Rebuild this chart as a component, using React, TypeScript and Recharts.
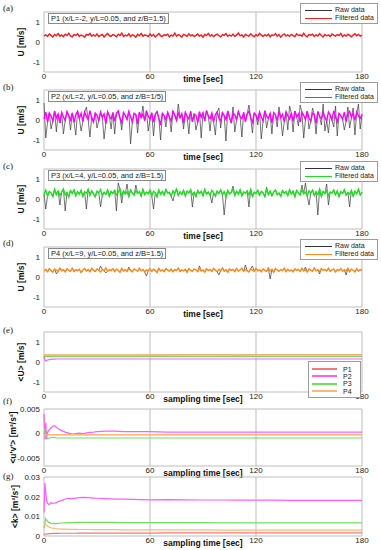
import React from 'react';
import { LineChart, Line, XAxis, YAxis, CartesianGrid, Label } from 'recharts';

const FONT = '"Liberation Sans", Arial, Helvetica, sans-serif';

// ---------- panel (a) P1 ----------
const p1Filtered = [
0.30,0.36,0.28,0.40,0.33,0.25,0.38,0.31,0.42,0.29,0.35,0.27,0.39,0.32,0.44,0.30,0.26,0.37,0.33,0.41,
0.28,0.35,0.31,0.24,0.38,0.34,0.43,0.29,0.36,0.30,0.40,0.27,0.33,0.38,0.25,0.35,0.42,0.31,0.29,0.37,
0.33,0.26,0.39,0.32,0.45,0.28,0.34,0.30,0.41,0.27,0.36,0.32,0.24,0.38,0.31,0.43,0.29,0.35,0.33,0.27,
0.40,0.30,0.37,0.25,0.34,0.42,0.31,0.28,0.36,0.33,0.39,0.26,0.35,0.30,0.44,0.29,0.37,0.32,0.25,0.38,
0.34,0.28,0.41,0.31,0.36,0.27,0.33,0.40,0.29,0.35,0.24,0.38,0.32,0.43,0.30,0.36,0.27,0.34,0.39,0.31,
0.26,0.37,0.33,0.42,0.29,0.35,0.30,0.40,0.28,0.34,0.45,0.31,0.36,0.25,0.38,0.33,0.29,0.41,0.32,0.27,
0.37,0.30,0.43,0.34,0.28,0.36,0.31,0.39,0.26,0.35,0.33,0.42,0.29,0.37,0.24,0.34,0.40,0.30,0.36,0.28,
0.38,0.32,0.27,0.41,0.33,0.35,0.29,0.44,0.31,0.26,0.37,0.34,0.39,0.28,0.36,0.30,0.42,0.33,0.25,0.38,
0.31,0.35,0.28,0.40,0.34,0.29,0.37,0.32,0.43,0.27,0.36,0.30,0.39,0.33,0.26,0.35,0.41,0.31,0.38,0.29,0.34];
// raw signal at P1 is hidden under the filtered one
const p1Raw = [
0.30,0.36,0.28,0.40,0.33,0.25,0.38,0.31,0.42,0.29,0.35,0.27,0.39,0.32,0.44,0.30,0.26,0.37,0.33,0.41,
0.28,0.35,0.31,0.24,0.38,0.34,0.43,0.29,0.36,0.30,0.40,0.27,0.33,0.38,0.25,0.35,0.42,0.31,0.29,0.37,
0.33,0.26,0.39,0.32,0.45,0.28,0.34,0.30,0.41,0.27,0.36,0.32,0.24,0.38,0.31,0.43,0.29,0.35,0.33,0.27,
0.40,0.30,0.37,0.25,0.34,0.42,0.31,0.28,0.36,0.33,0.39,0.26,0.35,0.30,0.44,0.29,0.37,0.32,0.25,0.38,
0.34,0.28,0.41,0.31,0.36,0.27,0.33,0.40,0.29,0.35,0.24,0.38,0.32,0.43,0.30,0.36,0.27,0.34,0.39,0.31,
0.26,0.37,0.33,0.42,0.29,0.35,0.30,0.40,0.28,0.34,0.45,0.31,0.36,0.25,0.38,0.33,0.29,0.41,0.32,0.27,
0.37,0.30,0.43,0.34,0.28,0.36,0.31,0.39,0.26,0.35,0.33,0.42,0.29,0.37,0.24,0.34,0.40,0.30,0.36,0.28,
0.38,0.32,0.27,0.41,0.33,0.35,0.29,0.44,0.31,0.26,0.37,0.34,0.39,0.28,0.36,0.30,0.42,0.33,0.25,0.38,
0.31,0.35,0.28,0.40,0.34,0.29,0.37,0.32,0.43,0.27,0.36,0.30,0.39,0.33,0.26,0.35,0.41,0.31,0.38,0.29,0.34];

// ---------- panel (b) P2 ----------
const p2Filtered = [
0.05,0.40,-0.10,0.35,0.20,-0.05,0.45,0.10,0.30,-0.15,0.38,0.15,-0.02,0.42,0.22,0.00,0.36,-0.12,0.28,0.44,
0.08,0.33,-0.08,0.40,0.18,0.02,0.47,0.12,-0.10,0.35,0.25,-0.04,0.39,0.14,0.30,-0.18,0.41,0.20,0.06,0.37,
-0.06,0.32,0.45,0.10,-0.14,0.38,0.24,0.03,0.43,0.16,-0.09,0.34,0.27,-0.20,0.40,0.12,0.30,-0.03,0.46,0.19,
0.04,0.36,-0.11,0.29,0.42,0.08,-0.25,0.33,0.21,0.01,0.38,0.15,-0.07,0.44,0.26,-0.02,0.35,0.11,0.31,-0.16,
0.39,0.18,0.05,0.43,-0.09,0.30,0.23,-0.13,0.41,0.14,0.36,-0.04,0.47,0.20,0.07,0.34,-0.10,0.27,0.40,0.09,
-0.06,0.37,0.22,0.02,0.45,0.13,-0.15,0.32,0.28,-0.01,0.42,0.17,0.06,0.38,-0.08,0.30,0.44,0.11,-0.12,0.35,
0.24,0.00,0.40,0.15,-0.05,0.46,0.19,0.08,0.33,-0.14,0.37,0.26,-0.03,0.43,0.12,0.29,-0.09,0.41,0.21,0.04,
0.36,-0.07,0.45,0.16,0.31,-0.11,0.39,0.23,0.03,0.44,0.10,-0.06,0.34,0.27,-0.17,0.42,0.18,0.07,0.38,0.13,
-0.04,0.40,0.25,0.01,0.46,0.15,-0.10,0.33,0.22,0.05,0.39,-0.08,0.30,0.43,0.12,0.35,-0.02,0.41,0.20,0.09,0.28];
const p2Raw = [
0.85,-0.90,-0.10,0.35,-0.45,-0.05,0.45,-0.60,0.30,-0.15,0.38,-0.70,-0.02,0.42,0.22,-0.50,0.36,-0.12,-0.75,0.44,
0.08,-0.55,-0.08,0.40,0.65,0.02,-0.85,0.12,-0.10,0.35,-0.40,-0.04,0.39,0.14,-0.95,-0.18,0.41,0.20,-0.45,0.37,
-0.70,0.32,0.45,0.10,-0.50,0.38,0.24,0.03,0.43,-1.20,-0.09,0.34,0.27,-0.65,0.40,0.12,0.70,-0.03,0.46,-0.55,
0.04,0.36,-0.80,0.29,0.42,0.08,-1.00,0.33,0.21,-0.35,0.38,0.15,-0.60,0.44,0.26,-0.02,0.80,0.11,0.31,-0.45,
0.39,0.18,-0.70,0.43,-0.09,0.30,-0.50,-0.13,0.41,-0.90,0.36,-0.04,0.47,0.20,-0.55,0.34,-0.10,-0.75,0.40,0.60,
-0.40,0.37,0.22,-1.05,0.45,0.13,-0.15,0.65,-0.60,-0.01,0.42,0.17,-0.85,0.38,-0.08,0.30,0.75,0.11,-0.65,0.35,
0.24,-0.25,0.40,-0.95,-0.05,0.46,-0.40,0.08,0.33,-0.70,0.37,0.26,-0.35,0.65,0.12,-0.80,-0.09,0.41,-0.50,0.70,
0.36,-0.60,0.45,0.16,-0.30,0.75,0.39,-0.90,0.03,0.44,-0.45,-0.06,0.60,0.27,-0.70,0.42,0.18,-0.25,0.80,-0.55,
-0.04,-0.65,0.25,0.01,-0.35,0.70,-0.80,0.33,0.22,0.05,-0.50,-0.08,0.65,-0.40,0.12,0.60,-0.75,0.35,0.80,-0.45,0.28];

// ---------- panel (c) P3 ----------
const p3Filtered = [
0.25,0.45,0.15,0.38,0.30,0.12,0.48,0.22,0.40,0.18,0.35,0.50,0.20,0.33,0.10,0.42,0.28,0.46,0.16,0.37,
0.24,0.44,0.13,0.36,0.29,0.49,0.19,0.41,0.26,0.11,0.39,0.31,0.47,0.17,0.34,0.23,0.45,0.14,0.38,0.27,
0.43,0.21,0.32,0.50,0.15,0.40,0.25,0.36,0.12,0.46,0.30,0.19,0.42,0.28,0.37,0.14,0.48,0.22,0.35,0.26,
0.44,0.16,0.39,0.31,0.11,0.45,0.24,0.38,0.20,0.47,0.29,0.33,0.13,0.41,0.27,0.49,0.18,0.36,0.23,0.43,
0.15,0.40,0.30,0.46,0.21,0.34,0.12,0.42,0.27,0.38,0.17,0.48,0.25,0.35,0.19,0.44,0.31,0.14,0.40,0.28,
0.45,0.22,0.37,0.11,0.43,0.26,0.33,0.49,0.18,0.39,0.24,0.46,0.15,0.36,0.29,0.41,0.20,0.47,0.13,0.34,
0.27,0.44,0.19,0.38,0.32,0.12,0.48,0.23,0.40,0.16,0.35,0.45,0.21,0.30,0.14,0.42,0.28,0.37,0.17,0.46,
0.25,0.39,0.11,0.43,0.31,0.20,0.47,0.26,0.34,0.15,0.41,0.29,0.44,0.18,0.36,0.22,0.49,0.13,0.38,0.27,
0.42,0.16,0.35,0.30,0.45,0.21,0.40,0.12,0.37,0.28,0.46,0.19,0.33,0.24,0.43,0.14,0.39,0.26,0.48,0.20,0.34];
const p3Raw = [
0.25,-0.50,0.15,0.38,0.30,0.12,0.48,0.22,0.40,-0.30,0.35,0.50,-0.60,0.33,0.10,0.42,0.28,0.46,0.16,0.37,
0.24,0.44,0.13,0.36,-0.50,0.49,0.19,0.41,0.26,0.11,0.39,0.31,-0.40,0.17,0.34,0.23,0.45,0.14,0.38,0.27,
0.43,-0.60,0.80,0.50,-0.20,0.40,0.25,0.75,0.12,0.46,0.30,0.19,0.70,0.28,0.37,0.14,0.48,0.22,0.35,0.26,
0.44,0.16,-0.50,0.31,0.11,0.45,0.24,0.38,0.20,0.47,0.29,0.33,0.13,-0.10,0.27,0.49,0.18,0.36,0.23,0.43,
0.15,0.40,0.30,0.46,-0.40,0.34,0.12,0.42,0.27,0.38,0.17,0.48,0.25,0.35,0.19,-0.20,0.31,0.14,0.40,0.28,
0.45,0.22,-0.80,0.11,0.43,0.26,0.33,0.65,0.18,0.39,0.24,0.46,0.15,0.36,0.29,0.41,-0.40,0.47,0.13,0.34,
0.27,0.44,0.19,0.38,0.32,0.12,0.60,0.23,0.40,0.16,0.35,0.45,0.21,0.30,0.14,0.42,0.28,0.37,0.17,0.46,
0.25,0.39,0.11,0.43,0.31,0.20,0.70,0.26,0.80,0.15,-0.30,0.29,0.44,0.18,0.36,-0.80,0.49,0.13,0.38,0.27,
0.75,-0.30,0.35,0.30,0.45,0.21,0.40,0.12,0.37,0.28,0.46,0.19,0.33,-0.40,0.43,0.14,0.39,0.26,0.48,0.20,0.34];

// ---------- panel (d) P4 ----------
const p4Filtered = [
0.30,0.38,0.26,0.42,0.33,0.24,0.40,0.35,0.28,0.44,0.31,0.37,0.25,0.41,0.34,0.29,0.43,0.27,0.36,0.32,
0.39,0.23,0.35,0.42,0.30,0.37,0.26,0.44,0.33,0.28,0.40,0.34,0.25,0.38,0.31,0.45,0.29,0.36,0.32,0.41,
0.27,0.39,0.34,0.24,0.43,0.30,0.37,0.28,0.42,0.33,0.26,0.40,0.35,0.29,0.44,0.31,0.38,0.25,0.36,0.32,
0.41,0.28,0.39,0.33,0.23,0.43,0.30,0.36,0.27,0.42,0.34,0.29,0.40,0.26,0.37,0.32,0.45,0.28,0.35,0.31,
0.38,0.24,0.42,0.33,0.29,0.40,0.36,0.27,0.44,0.30,0.35,0.25,0.41,0.32,0.38,0.28,0.43,0.34,0.26,0.39,
0.31,0.45,0.29,0.36,0.24,0.40,0.33,0.38,0.27,0.42,0.30,0.35,0.44,0.28,0.37,0.32,0.25,0.41,0.34,0.29,
0.43,0.31,0.36,0.26,0.40,0.33,0.28,0.45,0.30,0.38,0.24,0.42,0.35,0.29,0.37,0.32,0.44,0.27,0.39,0.31,
0.35,0.26,0.41,0.33,0.38,0.28,0.43,0.30,0.36,0.25,0.40,0.34,0.29,0.45,0.31,0.37,0.27,0.42,0.33,0.38,
0.30,0.44,0.28,0.35,0.40,0.25,0.37,0.32,0.42,0.29,0.36,0.31,0.43,0.27,0.39,0.34,0.26,0.41,0.30,0.37,0.33];
const p4Raw = [
0.30,0.38,0.26,0.42,0.33,0.24,0.40,0.15,0.28,0.44,0.31,0.37,0.25,0.41,0.34,0.29,0.43,0.27,0.36,0.32,
0.39,0.23,0.35,0.42,0.30,0.37,0.26,0.44,0.33,0.28,0.40,0.34,0.55,0.38,0.31,0.20,0.29,0.36,0.32,0.41,
0.27,0.39,0.34,0.24,0.43,0.30,0.37,0.28,0.50,0.33,0.26,0.40,0.35,0.29,0.44,0.31,0.38,0.25,0.05,0.32,
0.41,0.28,0.39,0.33,0.23,0.43,0.30,0.36,0.27,0.42,0.34,0.29,0.40,0.26,0.37,0.32,0.45,0.28,0.35,0.31,
0.38,0.24,0.42,0.33,0.29,0.40,0.36,0.27,0.55,0.30,0.35,0.25,0.41,0.32,0.38,0.28,0.43,0.34,0.26,0.10,
0.31,0.45,0.29,0.36,0.24,0.40,0.33,0.38,0.27,0.42,0.30,0.35,0.44,0.28,0.60,0.32,0.25,0.41,0.55,0.29,
0.43,0.31,0.36,0.26,0.40,0.33,0.28,0.45,-0.10,0.38,0.24,0.42,0.35,0.29,0.37,0.32,0.44,0.27,0.39,0.31,
0.35,0.26,0.41,0.33,0.38,0.28,0.43,0.30,0.50,0.25,0.40,0.34,0.29,0.45,0.31,0.37,0.15,0.42,0.33,0.38,
0.30,0.44,0.28,0.35,0.40,0.25,0.37,0.32,0.42,0.29,0.36,0.10,0.43,0.27,0.39,0.34,0.26,0.41,0.30,0.37,0.33];

// ---------- cumulative statistics (e, f, g) ----------
const cumTime = [0,0.5,1,1.5,2,3,4,5,6,7,8,10,12,14,16,18,20,22,25,28,30,35,40,45,50,60,70,80,90,100,110,120,130,140,150,160,170,180];

const meanU_P1 = [0.33,0.35,0.34,0.35,0.35,0.34,0.35,0.35,0.35,0.35,0.35,0.35,0.35,0.35,0.35,0.35,0.35,0.35,0.35,0.35,0.35,0.35,0.35,0.35,0.35,0.355,0.36,0.365,0.37,0.365,0.36,0.365,0.37,0.37,0.37,0.37,0.37,0.365];
const meanU_P2 = [0.30,0.10,0.05,0.08,0.10,0.12,0.13,0.14,0.14,0.15,0.15,0.15,0.15,0.15,0.15,0.15,0.15,0.15,0.15,0.15,0.15,0.15,0.15,0.15,0.15,0.15,0.15,0.15,0.15,0.15,0.15,0.15,0.15,0.15,0.15,0.15,0.15,0.15];
const meanU_P3 = [0.26,0.29,0.27,0.28,0.28,0.28,0.27,0.28,0.28,0.28,0.28,0.28,0.28,0.28,0.28,0.28,0.28,0.28,0.28,0.28,0.28,0.28,0.28,0.28,0.28,0.28,0.28,0.28,0.28,0.28,0.28,0.28,0.28,0.28,0.28,0.28,0.28,0.28];
const meanU_P4 = [0.38,0.36,0.37,0.36,0.36,0.37,0.36,0.36,0.36,0.36,0.36,0.36,0.36,0.36,0.36,0.36,0.36,0.36,0.36,0.36,0.36,0.36,0.36,0.36,0.36,0.36,0.36,0.36,0.36,0.36,0.36,0.36,0.36,0.36,0.36,0.36,0.36,0.36];

const uv_P1 = [0,-0.0004,-0.0001,-0.0003,-0.0002,-0.0002,-0.0002,-0.0002,-0.0002,-0.0002,-0.0002,-0.0002,-0.0002,-0.0002,-0.0002,-0.0002,-0.0002,-0.0002,-0.0002,-0.0002,-0.0002,-0.0002,-0.0002,-0.0002,-0.0002,-0.0002,-0.0002,-0.0002,-0.0002,-0.0002,-0.0002,-0.0002,-0.0002,-0.0002,-0.0002,-0.0002,-0.0002,-0.0002];
const uv_P2 = [0.004,-0.0012,0.0022,-0.0008,0.0002,0.0008,0.0012,0.0015,0.0016,0.0013,0.001,0.0006,0.0003,0.0001,-0.0001,0.0000,0.0001,0.0000,0.0002,0.0003,0.0004,0.0005,0.0005,0.0004,0.0004,0.0004,0.0003,0.0003,0.0003,0.0003,0.0003,0.0003,0.0003,0.0003,0.0003,0.0003,0.0003,0.0003];
const uv_P3 = [0,0.001,-0.0012,-0.0008,-0.001,-0.0009,-0.0008,-0.0008,-0.0008,-0.0009,-0.0009,-0.0009,-0.0009,-0.0009,-0.0009,-0.0009,-0.0009,-0.0009,-0.0009,-0.0009,-0.0009,-0.0009,-0.0009,-0.0009,-0.0009,-0.0009,-0.0009,-0.0009,-0.0009,-0.0009,-0.0009,-0.0009,-0.0009,-0.0009,-0.0009,-0.0009,-0.0009,-0.0009];
const uv_P4 = [-0.0005,-0.0003,-0.0002,-0.0003,-0.0002,-0.0002,-0.0002,-0.0002,-0.0002,-0.0002,-0.0002,-0.0002,-0.0002,-0.0002,-0.0002,-0.0002,-0.0002,-0.0002,-0.0002,-0.0002,-0.0002,-0.0002,-0.0002,-0.0002,-0.0002,-0.0002,-0.0002,-0.0002,-0.0002,-0.0002,-0.0002,-0.0002,-0.0002,-0.0002,-0.0002,-0.0002,-0.0002,-0.0002];

const k_P1 = [0.0008,0.0009,0.001,0.0011,0.0011,0.0012,0.0012,0.0013,0.0013,0.0013,0.0013,0.0014,0.0014,0.0014,0.0014,0.0014,0.0015,0.0015,0.0015,0.0015,0.0015,0.0015,0.0015,0.0015,0.0015,0.0015,0.0016,0.0016,0.0016,0.0016,0.0016,0.0016,0.0016,0.0016,0.0016,0.0016,0.0016,0.0016];
const k_P2 = [0.012,0.027,0.022,0.018,0.0165,0.016,0.017,0.0165,0.0168,0.017,0.0175,0.018,0.0188,0.0192,0.019,0.0193,0.0195,0.0196,0.0195,0.0193,0.0192,0.019,0.0188,0.0187,0.0186,0.0184,0.0185,0.0184,0.0183,0.0183,0.0182,0.0182,0.0182,0.0181,0.0181,0.0181,0.0181,0.0181];
const k_P3 = [0.004,0.006,0.0088,0.008,0.0075,0.0068,0.0064,0.0063,0.0064,0.0063,0.0064,0.0066,0.0067,0.0068,0.0068,0.0069,0.0069,0.0069,0.0069,0.0069,0.0069,0.0069,0.0069,0.0068,0.0068,0.0068,0.0068,0.0068,0.0068,0.0067,0.0067,0.0067,0.0067,0.0067,0.0067,0.0067,0.0067,0.0067];
const k_P4 = [0.006,0.006,0.0058,0.0055,0.005,0.0045,0.0042,0.004,0.0038,0.0037,0.0036,0.0035,0.0035,0.0034,0.0034,0.0034,0.0033,0.0033,0.0033,0.0032,0.0032,0.0032,0.0032,0.0031,0.0031,0.0031,0.0031,0.0031,0.0031,0.003,0.003,0.003,0.003,0.003,0.003,0.003,0.003,0.003];

const X_TICKS = [0, 60, 120, 180];
const PT_NAMES = ['P1', 'P2', 'P3', 'P4'];
const PT_COLORS = ['#f07a7a', '#ff5cff', '#6ee05e', '#ffb676'];

const tickStyle = { fontSize: 8, fill: '#222', fontFamily: FONT };
const titleStyle = { fontSize: 8.5, fontWeight: 'bold' as const, fill: '#111', fontFamily: FONT };

function PanelLetter({ text, top }: { text: string; top: number }) {
  return (
    <div style={{ position: 'absolute', left: 3, top, fontFamily: '"Liberation Serif", "DejaVu Serif", serif', fontSize: 9, lineHeight: '10px', color: '#222' }}>{text}</div>
  );
}

function TsLegend({ top, color }: { top: number; color: string }) {
  const row = (label: string, c: string, y: number) => (
    <>
      <div style={{ position: 'absolute', left: 4, top: y, width: 27, height: 0, borderTop: `1px solid ${c}` }} />
      <div style={{ position: 'absolute', left: 34, top: y - 3.5, lineHeight: '7px', whiteSpace: 'nowrap' }}>{label}</div>
    </>
  );
  return (
    <div style={{ position: 'absolute', left: 300, top, width: 78, height: 21, border: '1px solid #9c9c9c', background: '#fff', boxSizing: 'border-box', fontFamily: FONT, fontSize: 7, color: '#222' }}>
      {row('Raw data', '#333', 5.5)}
      {row('Filtered data', color, 13.5)}
    </div>
  );
}

function Note({ text, top }: { text: string; top: number }) {
  return (
    <div style={{ position: 'absolute', left: 48, top, border: '1px solid #8a8a8a', background: '#fff', fontFamily: FONT, fontSize: 7.5, lineHeight: '9px', padding: '0 2px', whiteSpace: 'nowrap', color: '#222' }}>{text}</div>
  );
}

function TsPanel({ top, bottom, raw, filt, color }: { top: number; bottom: number; raw: number[]; filt: number[]; color: string }) {
  const h = bottom - top;
  const n = filt.length;
  const data = filt.map((v, i) => ({ t: (i * 180) / (n - 1), raw: raw[i], filt: v }));
  return (
    <div style={{ position: 'absolute', left: 0, top: top - 12 }}>
      <LineChart width={381} height={h + 28} data={data} margin={{ top: 12, right: 19, bottom: 0, left: 0 }}>
        <CartesianGrid stroke="#bdbdbd" fill="none" horizontalValues={[-1.5, 1.5]} verticalValues={X_TICKS} />
        <XAxis dataKey="t" type="number" domain={[0, 180]} ticks={X_TICKS} interval={0} height={16} axisLine={false} tickLine={false} tickSize={0} tickMargin={1} tick={tickStyle}>
          <Label value="time [sec]" position="insideTop" offset={4} style={titleStyle} />
        </XAxis>
        <YAxis type="number" domain={[-1.5, 1.5]} ticks={[-1, 0, 1]} interval={0} width={44} axisLine={false} tickLine={false} tickSize={0} tickMargin={4} tick={tickStyle} allowDataOverflow>
          <Label value="U [m/s]" angle={-90} position="center" dx={-1} style={titleStyle} />
        </YAxis>
        <Line dataKey="raw" stroke="#3a3a3a" strokeWidth={0.7} dot={false} isAnimationActive={false} />
        <Line dataKey="filt" stroke={color} strokeWidth={1.4} dot={false} isAnimationActive={false} />
      </LineChart>
    </div>
  );
}

function CumPanel({ top, bottom, series, domain, ticks, yLabel, labelDx }: { top: number; bottom: number; series: number[][]; domain: [number, number]; ticks: number[]; yLabel: string; labelDx: number }) {
  const h = bottom - top;
  const data = cumTime.map((t, i) => ({ t, p1: series[0][i], p2: series[1][i], p3: series[2][i], p4: series[3][i] }));
  return (
    <div style={{ position: 'absolute', left: 0, top: top - 12 }}>
      <LineChart width={381} height={h + 28} data={data} margin={{ top: 12, right: 19, bottom: 0, left: 0 }}>
        <CartesianGrid stroke="#bdbdbd" fill="none" horizontalValues={domain} verticalValues={X_TICKS} />
        <XAxis dataKey="t" type="number" domain={[0, 180]} ticks={X_TICKS} interval={0} height={16} axisLine={false} tickLine={false} tickSize={0} tickMargin={1} tick={tickStyle}>
          <Label value="sampling time [sec]" position="insideTop" offset={4} style={titleStyle} />
        </XAxis>
        <YAxis type="number" domain={domain} ticks={ticks} interval={0} width={44} axisLine={false} tickLine={false} tickSize={0} tickMargin={4} tick={tickStyle} allowDataOverflow>
          <Label value={yLabel} angle={-90} position="center" dx={labelDx} style={titleStyle} />
        </YAxis>
        {['p1', 'p2', 'p3', 'p4'].map((k, i) => (
          <Line key={k} dataKey={k} stroke={PT_COLORS[i]} strokeWidth={1.2} dot={false} isAnimationActive={false} />
        ))}
      </LineChart>
    </div>
  );
}

function PointLegend() {
  return (
    <div style={{ position: 'absolute', left: 308, top: 361, width: 53, height: 37, border: '1px solid #9c9c9c', background: '#fff', boxSizing: 'border-box', fontFamily: FONT, fontSize: 7, color: '#222' }}>
      {PT_NAMES.map((name, i) => (
        <React.Fragment key={name}>
          <div style={{ position: 'absolute', left: 3, top: 6 + i * 7.4, width: 25, height: 0, borderTop: `2px solid ${PT_COLORS[i]}` }} />
          <div style={{ position: 'absolute', left: 34, top: 3.5 + i * 7.4, lineHeight: '7px' }}>{name}</div>
        </React.Fragment>
      ))}
    </div>
  );
}

export default function App() {
  return (
    <div style={{ position: 'absolute', left: 0, top: 0, width: 381, height: 550, overflow: 'hidden', background: '#fff' }}>
      <TsPanel top={12} bottom={72} raw={p1Raw} filt={p1Filtered} color="#ff1f1f" />
      <TsPanel top={90} bottom={150} raw={p2Raw} filt={p2Filtered} color="#ff00ff" />
      <TsPanel top={169} bottom={229} raw={p3Raw} filt={p3Filtered} color="#1ee01e" />
      <TsPanel top={247} bottom={307} raw={p4Raw} filt={p4Filtered} color="#ff8a1c" />
      <CumPanel top={332} bottom={392} series={[meanU_P1, meanU_P2, meanU_P3, meanU_P4]} domain={[-1.5, 1.5]} ticks={[-1, 0, 1]} yLabel="<U> [m/s]" labelDx={-1} />
      <CumPanel top={409} bottom={466} series={[uv_P1, uv_P2, uv_P3, uv_P4]} domain={[-0.0066, 0.005]} ticks={[-0.005, 0, 0.005]} yLabel="<u'v'> [m²/s²]" labelDx={-9} />
      <CumPanel top={477} bottom={536} series={[k_P1, k_P2, k_P3, k_P4]} domain={[0, 0.03]} ticks={[0, 0.01, 0.02, 0.03]} yLabel="<k> [m²/s²]" labelDx={-7} />

      <Note text="P1 (x/L=-2, y/L=0.05, and z/B=1.5)" top={13} />
      <Note text="P2 (x/L=2, y/L=0.05, and z/B=1/5)" top={91} />
      <Note text="P3 (x/L=4, y/L=0.05, and z/B=1.5)" top={170} />
      <Note text="P4 (x/L=9, y/L=0.05, and z/B=1.5)" top={248} />

      <TsLegend top={3} color="#ff1f1f" />
      <TsLegend top={82} color="#ff00ff" />
      <TsLegend top={161} color="#1ee01e" />
      <TsLegend top={239} color="#ff8a1c" />
      <PointLegend />

      <PanelLetter text="(a)" top={3} />
      <PanelLetter text="(b)" top={82} />
      <PanelLetter text="(c)" top={161} />
      <PanelLetter text="(d)" top={238} />
      <PanelLetter text="(e)" top={325} />
      <PanelLetter text="(f)" top={396} />
      <PanelLetter text="(g)" top={471} />
    </div>
  );
}
